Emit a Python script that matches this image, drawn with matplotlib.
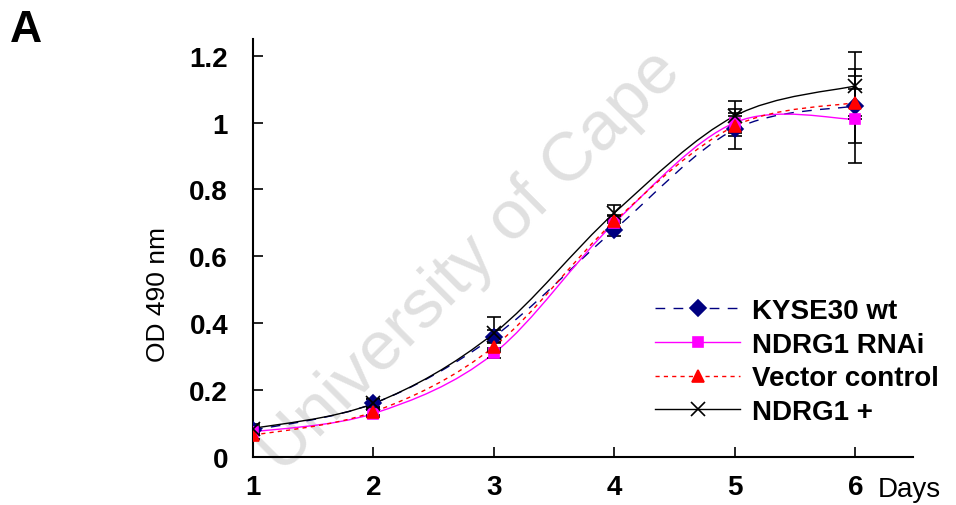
import matplotlib

matplotlib.use("Agg")
import matplotlib.pyplot as plt
import numpy as np
from matplotlib.lines import Line2D
from matplotlib.patches import PathPatch
from matplotlib.path import Path

plt.rcParams["font.family"] = ["Liberation Sans", "DejaVu Sans"]

days = [1, 2, 3, 4, 5, 6]
series_names = ["KYSE30 wt", "NDRG1 RNAi", "Vector control", "NDRG1 +"]

kyse_wt = [0.080, 0.160, 0.360, 0.680, 0.980, 1.050]
kyse_err = [0.012, 0.012, 0.020, 0.020, 0.060, 0.110]
rnai = [0.075, 0.130, 0.310, 0.700, 1.000, 1.010]
rnai_err = [0.010, 0.010, 0.015, 0.020, 0.030, 0.130]
vector = [0.065, 0.135, 0.330, 0.705, 0.990, 1.060]
vector_err = [0.010, 0.010, 0.015, 0.020, 0.030, 0.040]
ndrg1_plus = [0.085, 0.160, 0.370, 0.730, 1.020, 1.110]
ndrg1_plus_err = [0.015, 0.012, 0.050, 0.025, 0.045, 0.100]

y_ticks = [0, 0.2, 0.4, 0.6, 0.8, 1.0, 1.2]
y_tick_labels = ["0", "0.2", "0.4", "0.6", "0.8", "1", "1.2"]


def smooth_path(x, y):
    # excel style smoothed line: cubic bezier through every point
    x = np.asarray(x, float)
    y = np.asarray(y, float)
    pts = np.column_stack([x, y])
    verts = [pts[0]]
    codes = [Path.MOVETO]
    n = len(pts)
    for i in range(n - 1):
        p0 = pts[i - 1] if i > 0 else pts[i]
        p1 = pts[i]
        p2 = pts[i + 1]
        p3 = pts[i + 2] if i + 2 < n else pts[i + 1]
        c1 = p1 + (p2 - p0) / 6.0
        c2 = p2 - (p3 - p1) / 6.0
        verts += [c1, c2, p2]
        codes += [Path.CURVE4] * 3
    return Path(verts, codes)


styles = [
    dict(color="#000080", ls=(0, (7, 6)), marker="D", ms=8),
    dict(color="#ff00ff", ls="-", marker="s", ms=7),
    dict(color="#ff0000", ls=(0, (3, 3)), marker="^", ms=9),
    dict(color="black", ls="-", marker="x", ms=10),
]
values = [kyse_wt, rnai, vector, ndrg1_plus]
errors = [kyse_err, rnai_err, vector_err, ndrg1_plus_err]

fig = plt.figure(figsize=(9.56, 5.06), dpi=100)
ax = fig.add_axes([0.2647, 0.0949, 0.6904, 0.826])
ax.patch.set_alpha(0)

# watermark
ax.text(470 / 956, 1 - 262 / 506, "University of Cape", transform=fig.transFigure,
        fontsize=50, color="#e0e0e0", rotation=45, rotation_mode="anchor",
        ha="center", va="center", zorder=0, clip_on=False)

handles = []
for name, vals, errs, st in zip(series_names, values, errors, styles):
    patch = PathPatch(smooth_path(days, vals), facecolor="none", edgecolor=st["color"],
                      linestyle=st["ls"], linewidth=1.0, transform=ax.transData, zorder=2)
    ax.add_patch(patch)
    ax.errorbar(days, vals, yerr=errs, fmt="none", ecolor="black", elinewidth=1.2,
                capsize=5, capthick=1.2, zorder=3)
    ax.plot(days, vals, linestyle="none", marker=st["marker"], ms=st["ms"],
            color=st["color"], mew=1.2, zorder=4)
    handles.append(Line2D([], [], color=st["color"], linestyle=st["ls"], linewidth=1.0,
                          marker=st["marker"], ms=st["ms"], mew=1.2))

ax.set_xlim(1, 6.48)
ax.set_ylim(0, 1.25)
ax.set_xticks(days)
ax.set_yticks(y_ticks)
ax.set_yticklabels(y_tick_labels)
for side in ["top", "right"]:
    ax.spines[side].set_visible(False)
for side in ["left", "bottom"]:
    ax.spines[side].set_linewidth(1.5)
ax.tick_params(direction="in", length=7, width=1.2, labelsize=20)
ax.tick_params(axis="x", pad=12)
ax.tick_params(axis="y", pad=18)
for lab in ax.get_xticklabels() + ax.get_yticklabels():
    lab.set_fontweight("bold")

ax.set_ylabel("OD 490 nm", fontsize=19)
ax.yaxis.set_label_coords(-0.126, 0.39)
fig.text(878 / 956, 1 - 490 / 506, "Days", fontsize=20, ha="left", va="center")
fig.text(10 / 956, 1 - 30 / 506, "A", fontsize=32, fontweight="bold", ha="left", va="center")

leg = ax.legend(handles, series_names, loc="upper left", bbox_to_anchor=(0.609, 0.381),
                frameon=False, fontsize=20, handlelength=3.06, handletextpad=0.43,
                labelspacing=0.28, borderpad=0, borderaxespad=0, numpoints=1)
for t in leg.get_texts():
    t.set_fontweight("bold")

fig.savefig("out.png", dpi=100)
plt.close(fig)
